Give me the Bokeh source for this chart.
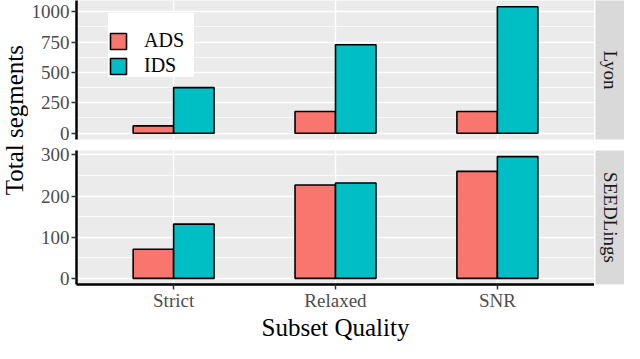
import math
from bokeh.plotting import figure
from bokeh.models import (ColumnDataSource, FactorRange, Range1d, FixedTicker, Label,
                          Legend, LegendItem, GridBox)
from bokeh.transform import dodge
from bokeh.embed import file_html
from bokeh.resources import INLINE

# ---- data ----
categories = ["Strict", "Relaxed", "SNR"]
series = ["ADS", "IDS"]
lyon_ads = [60, 178, 178]
lyon_ids = [375, 728, 1040]
seed_ads = [71, 227, 260]
seed_ids = [132, 232, 296]
lyon_ticks = [0, 250, 500, 750, 1000]
lyon_minor = [125, 375, 625, 875]
seed_ticks = [0, 100, 200, 300]
seed_minor = [50, 150, 250]
facets = ["Lyon", "SEEDLings"]
colors = ["#F8766D", "#00BFC4"]

FONT = "Liberation Serif"
TICK_FS = "19px"
TITLE_FS = "25px"
YLAB_W = 28
LEFT_B = 46
PANEL_W = 566
STRIP_W = 30
FRAME_H = 139
TOP_B = 0
GAP_A = 5   # below top panel
GAP_B = 6   # above bottom panel
BOT_B = 54
TOP_H = TOP_B + FRAME_H + GAP_A
BOT_H = GAP_B + FRAME_H + BOT_B
TOTAL_H = TOP_H + BOT_H


def panel(ads, ids, ticks, minor, height, top_border, bottom_border, show_x, legend=False):
    src = ColumnDataSource(dict(q=categories, ADS=ads, IDS=ids))
    top = max(max(ads), max(ids))
    p = figure(x_range=FactorRange(*categories, range_padding=0.1, range_padding_units="absolute"),
               y_range=Range1d(-0.05 * top, 1.05 * top),
               width=PANEL_W, height=height, output_backend="svg", toolbar_location=None,
               min_border_left=LEFT_B, min_border_right=0, min_border_top=top_border,
               min_border_bottom=bottom_border)
    p.background_fill_color = "#EBEBEB"
    p.border_fill_color = "white"
    p.outline_line_color = None

    r1 = p.vbar(x=dodge("q", -0.125, range=p.x_range), top="ADS", width=0.25, source=src,
                fill_color=colors[0], line_color="black", line_width=1.6)
    r2 = p.vbar(x=dodge("q", 0.125, range=p.x_range), top="IDS", width=0.25, source=src,
                fill_color=colors[1], line_color="black", line_width=1.6)

    p.ygrid.grid_line_color = "white"
    p.ygrid.grid_line_width = 1.4
    p.ygrid.minor_grid_line_color = "white"
    p.ygrid.minor_grid_line_width = 0.7
    p.xgrid.grid_line_color = "white"
    p.xgrid.grid_line_width = 1.4

    p.yaxis.ticker = FixedTicker(ticks=ticks, minor_ticks=minor)
    for ax in [p.yaxis[0], p.xaxis[0]]:
        ax.axis_line_color = "black"
        ax.axis_line_width = 2.5
        ax.major_tick_line_color = "#333333"
        ax.major_tick_line_width = 1.5
        ax.major_tick_out = 5
        ax.major_tick_in = 0
        ax.minor_tick_line_color = None
        ax.major_label_text_font = FONT
        ax.major_label_text_font_size = TICK_FS
        ax.major_label_text_color = "#4D4D4D"
    p.yaxis.major_label_standoff = 2
    p.xaxis.major_label_standoff = 0
    p.xaxis.visible = show_x
    if show_x:
        p.xaxis.axis_label = "Subset Quality"
        p.xaxis.axis_label_standoff = 0
        p.xaxis.axis_label_text_font = FONT
        p.xaxis.axis_label_text_font_size = TITLE_FS
        p.xaxis.axis_label_text_font_style = "normal"
        p.xaxis.axis_label_text_color = "black"

    if legend:
        lg = Legend(items=[LegendItem(label=series[0], renderers=[r1]),
                           LegendItem(label=series[1], renderers=[r2])],
                    location=(32, 62))
        lg.padding = 9
        lg.spacing = 2
        lg.margin = 0
        lg.glyph_width = 20
        lg.glyph_height = 20
        lg.label_height = 20
        lg.label_width = 50
        lg.label_standoff = 16
        lg.label_text_font = FONT
        lg.label_text_font_size = "20px"
        lg.label_text_color = "black"
        lg.background_fill_color = "white"
        lg.background_fill_alpha = 1.0
        lg.border_line_color = None
        lg.title = " "
        lg.title_text_font_size = "14px"
        lg.title_standoff = 0
        p.add_layout(lg)
    return p


def text_fig(w, h, left=0, top=0, bottom=0, bg="white"):
    f = figure(width=w, height=h, x_range=Range1d(0, w - left), y_range=Range1d(0, h - top - bottom),
               x_axis_type=None, y_axis_type=None, output_backend="svg", toolbar_location=None,
               min_border_left=left, min_border_right=0, min_border_top=top, min_border_bottom=bottom)
    f.background_fill_color = bg
    f.border_fill_color = "white"
    f.outline_line_color = None
    return f


p_top = panel(lyon_ads, lyon_ids, lyon_ticks, lyon_minor, TOP_H, TOP_B, GAP_A, False, legend=True)
p_bot = panel(seed_ads, seed_ids, seed_ticks, seed_minor, BOT_H, GAP_B, BOT_B, True)

# facet strips
s_top = text_fig(STRIP_W, TOP_H, left=1, top=TOP_B, bottom=GAP_A, bg="#D9D9D9")
s_top.add_layout(Label(x=(STRIP_W - 1) / 2, y=FRAME_H / 2, text=facets[0], angle=-math.pi / 2,
                       text_align="center", text_baseline="middle", text_font=FONT,
                       text_font_size=TICK_FS, text_color="#1A1A1A"))
s_bot = text_fig(STRIP_W, BOT_H, left=1, top=GAP_B, bottom=BOT_B, bg="#D9D9D9")
s_bot.add_layout(Label(x=(STRIP_W - 1) / 2, y=FRAME_H / 2, text=facets[1], angle=-math.pi / 2,
                       text_align="center", text_baseline="middle", text_font=FONT,
                       text_font_size=TICK_FS, text_color="#1A1A1A"))

# y-axis title spanning both panels
ylab = text_fig(YLAB_W, TOTAL_H)
center_from_top = (TOP_B + TOP_H + GAP_B + FRAME_H) / 2
ylab.add_layout(Label(x=YLAB_W / 2, y=TOTAL_H - center_from_top, text="Total segments",
                      angle=math.pi / 2, text_align="center", text_baseline="middle",
                      text_font=FONT, text_font_size=TITLE_FS, text_color="black"))

grid = GridBox(children=[(ylab, 0, 0, 2, 1), (p_top, 0, 1), (s_top, 0, 2),
                         (p_bot, 1, 1), (s_bot, 1, 2)], spacing=0)

open("out.html", "w").write(file_html(grid, INLINE))
